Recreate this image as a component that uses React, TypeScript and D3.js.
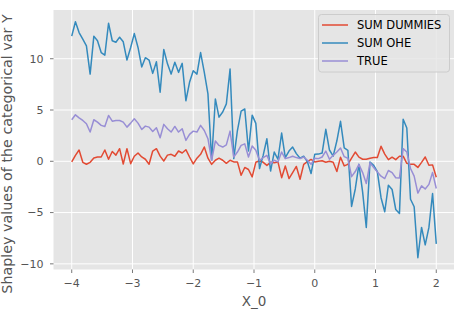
import React from 'react';
import * as d3 from 'd3';

// x grid of the samples (X_0)
const xValues = [
  -4, -3.939, -3.879, -3.818, -3.758, -3.697, -3.636, -3.576, -3.515, -3.455,
  -3.394, -3.333, -3.273, -3.212, -3.152, -3.091, -3.03, -2.97, -2.909, -2.848,
  -2.788, -2.727, -2.667, -2.606, -2.545, -2.485, -2.424, -2.364, -2.303, -2.242,
  -2.182, -2.121, -2.061, -2.0, -1.939, -1.879, -1.818, -1.758, -1.697, -1.636,
  -1.576, -1.515, -1.455, -1.394, -1.333, -1.273, -1.212, -1.152, -1.091, -1.03,
  -0.97, -0.909, -0.848, -0.788, -0.727, -0.667, -0.606, -0.545, -0.485, -0.424,
  -0.364, -0.303, -0.242, -0.182, -0.121, -0.061, 0.0, 0.061, 0.121, 0.182,
  0.242, 0.303, 0.364, 0.424, 0.485, 0.545, 0.606, 0.667, 0.727, 0.788,
  0.848, 0.909, 0.97, 1.03, 1.091, 1.152, 1.212, 1.273, 1.333, 1.394,
  1.455, 1.515, 1.576, 1.636, 1.697, 1.758, 1.818, 1.879, 1.939, 2.0,
];

const sumDummies = [
  -0.06, 0.58, 1.1, -0.1, -0.29, -0.1, 0.33, 0.42, 0.42, 1.1,
  0.2, 0.95, 0.6, 1.23, -0.26, 1.23, -0.23, 0.49, 0.81, 0.42,
  0.2, -0.29, 1.0, 1.23, 0.5, 0.03, 0.6, 0.68, 0.49, 1.0,
  0.81, 1.13, 0.42, -0.26, 0.3, 0.68, 1.39, 0.3, -0.3, 0.1,
  0.3, 0.1, -0.2, 0.1, -0.06, -0.06, -1.36, -0.6, -0.8, -1.52,
  -0.1, 0.05, -0.1, -0.4, -0.1, -0.15, -0.06, -1.6, -0.45, -1.68,
  -1.1, -0.5, -1.75, -0.3, -0.03, 0.18, -0.06, 0.0, 0.05, -0.1,
  0.0, -0.1, -1.0, 0.4, -0.45, -0.3, 0.3, 0.9, 0.4, 0.2,
  0.2, 0.3, 0.36, 0.36, 1.46, 0.7, 0.16, 0.4, 0.16, 0.49,
  0.5, -0.2, -0.3, -0.3, -0.6, -0.1, 0.42, -0.39, -0.35, -1.55,
];

const sumOhe = [
  12.2, 13.6, 12.55, 11.9, 11.26, 8.5, 12.2, 11.75, 10.6, 10.35,
  13.46, 11.75, 11.6, 12.1, 11.65, 9.87, 11.1, 12.45, 11.1, 9.2,
  10.1, 9.87, 8.57, 9.7, 6.73, 10.9, 9.5, 8.5, 9.65, 8.67,
  9.55, 5.9, 7.7, 8.83, 8.5, 10.6, 8.67, 6.57, 0.1, 6.08,
  4.3, 4.8, 5.6, 9.0, 0.26, 3.0, 4.9, 5.1, 1.0, 4.5,
  3.7, -0.71, 0.6, 2.2, -0.95, 0.9, 0.2, 2.75, 0.35, 1.0,
  1.39, 0.75, 0.3, 0.5, -0.05, -1.2, 0.68, 0.7, 0.8, 3.12,
  1.1, 0.5, 2.0, 3.9, 1.3, 1.07, -4.4, -2.7, -0.3, -3.0,
  -6.45, -0.07, -0.4, -1.0, -3.55, -4.92, -2.33, -2.75, -4.7, -5.08,
  4.1, 3.25, -3.7, -4.43, -9.4, -6.45, -8.15, -6.45, -3.14, -8.05,
];

const trueValues = [
  4.05, 4.53, 4.24, 3.98, 3.66, 2.85, 4.05, 3.82, 3.5, 3.4,
  4.47, 3.91, 3.98, 3.98, 3.82, 3.33, 3.72, 4.14, 3.72, 3.1,
  3.43, 3.33, 2.9, 3.27, 2.3, 3.6, 3.17, 2.85, 3.4, 2.85,
  3.17, 2.04, 2.62, 2.94, 2.85, 3.5, 3.0, 2.2, 0.1, 1.97,
  1.55, 1.39, 1.6, 2.94, 0.42, 0.9, 1.55, 1.7, 0.42, 1.5,
  1.07, 0.1, 0.36, 0.58, -0.23, 0.1, -0.06, 0.9, 0.26, 0.36,
  0.49, 0.36, 0.26, 0.42, 0.1, -0.3, 0.3, 0.26, 0.42, 1.0,
  0.2, 0.58, 0.9, 1.3, 0.45, 0.3, -1.5, -1.0, -0.3, -1.1,
  -2.17, -0.15, -0.6, -1.04, -1.45, -1.68, -0.9, -1.1, -1.6, -1.63,
  1.23, 0.9, -0.7, -1.45, -3.1, -2.4, -2.7, -2.25, -1.1, -2.65,
];

const seriesNames = ['SUM DUMMIES', 'SUM OHE', 'TRUE'];
const seriesColors = ['#E24A33', '#348ABD', '#988ED5'];
const xTicks = [-4, -3, -2, -1, 0, 1, 2];
const yTicks = [-10, -5, 0, 5, 10];

const width = 454;
const height = 310;
const plot = { left: 53.5, right: 454.5, top: 10, bottom: 269.5 };
const font = 'DejaVu Sans, sans-serif';

const fmt = (v: number) => (v < 0 ? '\u2212' + Math.abs(v) : String(v));

const App = () => {
  const series = [sumDummies, sumOhe, trueValues];

  // matplotlib-like 5% margins
  const xPad = (2 - -4) * 0.05;
  const xScale = d3.scaleLinear()
    .domain([-4 - xPad, 2 + xPad])
    .range([plot.left, plot.right]);

  const allY = series.flat();
  const yMin = d3.min(allY) as number;
  const yMax = d3.max(allY) as number;
  const yPad = (yMax - yMin) * 0.05;
  const yScale = d3.scaleLinear()
    .domain([yMin - yPad, yMax + yPad])
    .range([plot.bottom, plot.top]);

  const line = d3.line<number>()
    .x((_, i) => xScale(xValues[i]))
    .y(d => yScale(d));

  return (
    <svg width={width} height={height} style={{ position: 'absolute', left: 0, top: 0 }}>
      <rect x={0} y={0} width={width} height={height} fill="#ffffff" />
      <rect
        x={plot.left}
        y={plot.top}
        width={plot.right - plot.left}
        height={plot.bottom - plot.top}
        fill="#E5E5E5"
      />

      {/* grid */}
      {xTicks.map(t => (
        <line key={'gx' + t} x1={xScale(t)} x2={xScale(t)} y1={plot.top} y2={plot.bottom}
          stroke="#ffffff" strokeWidth={1} />
      ))}
      {yTicks.map(t => (
        <line key={'gy' + t} x1={plot.left} x2={plot.right} y1={yScale(t)} y2={yScale(t)}
          stroke="#ffffff" strokeWidth={1} />
      ))}

      {/* lines */}
      {series.map((s, k) => (
        <path key={seriesNames[k]} d={line(s) || ''} fill="none" stroke={seriesColors[k]}
          strokeWidth={1.5} strokeLinejoin="round" />
      ))}

      {/* x axis */}
      {xTicks.map(t => (
        <g key={'tx' + t} transform={`translate(${xScale(t)},${plot.bottom})`}>
          <line y1={0} y2={3.5} stroke="#555555" strokeWidth={0.8} />
          <text y={17.5} textAnchor="middle" fontFamily={font} fontSize={11} fill="#555555">
            {fmt(t)}
          </text>
        </g>
      ))}
      <text x={(plot.left + plot.right) / 2} y={306} textAnchor="middle" fontFamily={font}
        fontSize={13.5} fill="#555555">
        X_0
      </text>

      {/* y axis */}
      {yTicks.map(t => (
        <g key={'ty' + t} transform={`translate(${plot.left},${yScale(t)})`}>
          <line x1={-3.5} x2={0} stroke="#555555" strokeWidth={0.8} />
          <text x={-10} dy="0.35em" textAnchor="end" fontFamily={font} fontSize={11} fill="#555555">
            {fmt(t)}
          </text>
        </g>
      ))}
      <text transform={`translate(12,154) rotate(-90)`} textAnchor="middle" fontFamily={font}
        fontSize={14.3} fill="#555555">
        Shapley values of the categorical var Y
      </text>

      {/* legend */}
      <rect x={318.5} y={14.5} width={131} height={57.5} rx={3} fill="#E5E5E5"
        fillOpacity={0.8} stroke="#cccccc" strokeWidth={1} />
      {seriesNames.map((name, k) => (
        <g key={'lg' + name} transform={`translate(322,${25 + k * 18})`}>
          <line x1={0} x2={26} y1={0} y2={0} stroke={seriesColors[k]} strokeWidth={1.5} />
          <text x={35} dy="0.35em" fontFamily={font} fontSize={11.5} fill="#000000">
            {name}
          </text>
        </g>
      ))}
    </svg>
  );
};

export default App;
